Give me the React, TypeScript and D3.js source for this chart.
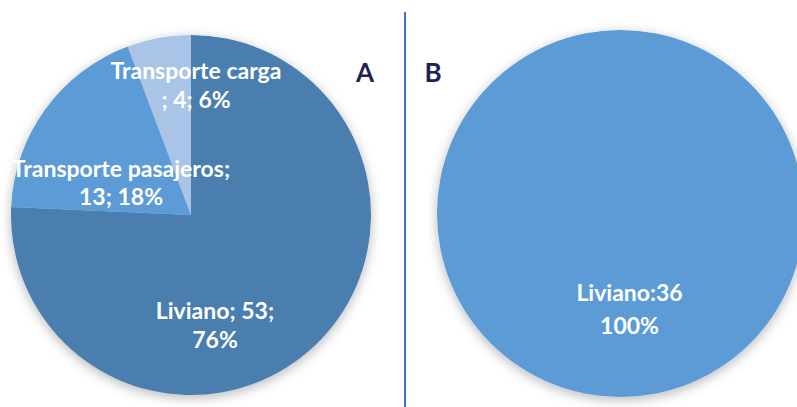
import React from "react";
import * as d3 from "d3";

const categoriesA = ["Liviano", "Transporte pasajeros", "Transporte carga"];
const valuesA = [53, 13, 4];
const percentLabelsA = ["76%", "18%", "6%"];
const colorsA = ["#4A7EAF", "#5B9BD5", "#A9C4E6"];

const categoriesB = ["Liviano"];
const valuesB = [36];
const percentLabelsB = ["100%"];
const colorsB = ["#5B9BD5"];

const W = 797;
const H = 407;

const labelFont = "Lato, 'Open Sans', sans-serif";

export default function App() {
  const pie = d3.pie<number>().value((d) => d).sort(null);
  const cxA = 191, cyA = 215, rA = 180;
  const cxB = 620.5, cyB = 213.5, rB = 183.5;
  const arcA = d3.arc<d3.PieArcDatum<number>>().innerRadius(0).outerRadius(rA);
  const arcB = d3.arc<d3.PieArcDatum<number>>().innerRadius(0).outerRadius(rB);
  const arcsA = pie(valuesA);
  const arcsB = pie(valuesB);

  const labelsA = [
    { lines: [`${categoriesA[0]}; ${valuesA[0]};`, percentLabelsA[0]], dx: 24, y: [319, 348] },
    { lines: [`${categoriesA[1]};`, `${valuesA[1]}; ${percentLabelsA[1]}`], dx: -70, y: [177, 205] },
    { lines: [`${categoriesA[2]}`, `; ${valuesA[2]}; ${percentLabelsA[2]}`], dx: 5, y: [79, 108] },
  ];
  const labelsB = [
    { lines: [`${categoriesB[0]}:${valuesB[0]}`, percentLabelsB[0]], dx: 9, y: [301, 334] },
  ];

  return (
    <svg width={W} height={H} style={{ position: "absolute", left: 0, top: 0, background: "#fff" }}>
      <defs>
        <filter id="sh" x="-20%" y="-20%" width="140%" height="140%">
          <feDropShadow dx="0" dy="3" stdDeviation="6" floodColor="#000" floodOpacity="0.28" />
        </filter>
      </defs>
      <rect width={W} height={H} fill="#fff" />
      <g transform={`translate(${cxA},${cyA})`}>
        <g filter="url(#sh)">
          {arcsA.map((a, i) => (
            <path key={i} d={arcA(a) as string} fill={colorsA[i]} />
          ))}
        </g>
      </g>
      <g transform={`translate(${cxB},${cyB})`}>
        <g filter="url(#sh)">
          {arcsB.map((a, i) => (
            <path key={i} d={arcB(a) as string} fill={colorsB[i]} />
          ))}
        </g>
      </g>
      {labelsA.map((l, i) => (
        <text key={i} fill="#fff" fontFamily={labelFont} fontWeight={700} fontSize={23} textAnchor="middle">
          {l.lines.map((t, j) => (
            <tspan key={j} x={cxA + l.dx} y={l.y[j]}>{t}</tspan>
          ))}
        </text>
      ))}
      {labelsB.map((l, i) => (
        <text key={i} fill="#fff" fontFamily={labelFont} fontWeight={700} fontSize={23} textAnchor="middle">
          {l.lines.map((t, j) => (
            <tspan key={j} x={cxB + l.dx} y={l.y[j]}>{t}</tspan>
          ))}
        </text>
      ))}
      <line x1={405} y1={12} x2={405} y2={H} stroke="#4472C4" strokeWidth={2} />
      <text x={365} y={82} fill="#1F2352" fontFamily={labelFont} fontWeight={700} fontSize={26} textAnchor="middle">A</text>
      <text x={433} y={82} fill="#1F2352" fontFamily={labelFont} fontWeight={700} fontSize={26} textAnchor="middle">B</text>
    </svg>
  );
}
